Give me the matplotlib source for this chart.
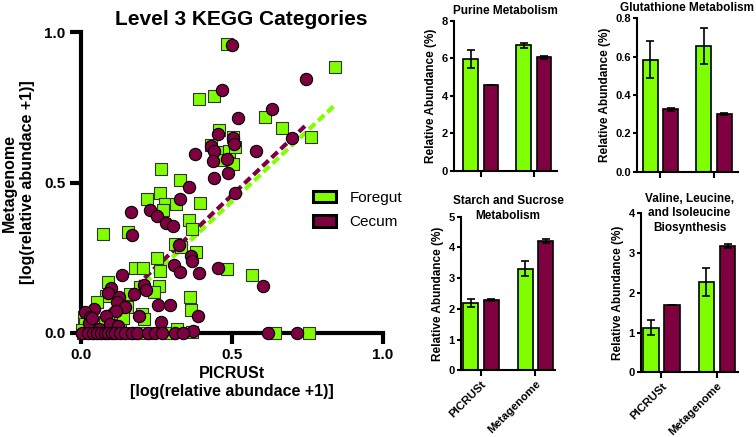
import numpy as np
import matplotlib
matplotlib.use('Agg')
import matplotlib.pyplot as plt
from matplotlib.patches import Patch

plt.rcParams['font.family'] = ['Liberation Sans', 'DejaVu Sans']
plt.rcParams['font.weight'] = 'bold'
plt.rcParams['axes.titleweight'] = 'bold'
plt.rcParams['axes.labelweight'] = 'bold'

GREEN = '#80ff00'
PURPLE = '#7f0040'

# ---- scatter: Level 3 KEGG categories ----
foregutX = [0.482, 0.840, 0.390, 0.440, 0.609, 0.667, 0.763, 0.456, 0.504, 0.430,
            0.471, 0.491, 0.511, 0.467, 0.502, 0.265, 0.328, 0.218, 0.262, 0.278,
            0.314, 0.394, 0.270, 0.359, 0.368, 0.073, 0.155, 0.312, 0.332, 0.381,
            0.252, 0.180, 0.205, 0.260, 0.482, 0.566, 0.088, 0.084, 0.196, 0.259,
            0.242, 0.163, 0.053, 0.152, 0.361, 0.365, 0.202, 0.209, 0.009, 0.031,
            0.130, 0.080, 0.020, 0.064, 0.108, 0.295, 0.317, 0.368, 0.642, 0.754,
            0.220, 0.005, 0.040, 0.140, 0.012, 0.003, 0.050, 0.095, 0.120, 0.175]
foregutY = [0.961, 0.884, 0.776, 0.787, 0.717, 0.680, 0.651, 0.673, 0.651, 0.626,
            0.601, 0.606, 0.617, 0.576, 0.560, 0.545, 0.507, 0.446, 0.465, 0.427,
            0.429, 0.432, 0.407, 0.376, 0.346, 0.329, 0.335, 0.296, 0.285, 0.268,
            0.249, 0.215, 0.215, 0.205, 0.213, 0.194, 0.171, 0.124, 0.152, 0.155,
            0.135, 0.130, 0.102, 0.088, 0.119, 0.076, 0.063, 0.047, 0.052, 0.041,
            0.041, 0.035, 0.013, 0.008, 0.013, 0.000, 0.013, 0.004, 0.000, 0.000,
            0.000, 0.000, 0.020, 0.050, 0.030, 0.010, 0.000, 0.025, 0.005, 0.000]

cecumX = [0.501, 0.744, 0.467, 0.633, 0.519, 0.455, 0.502, 0.508, 0.431, 0.442,
          0.578, 0.699, 0.379, 0.436, 0.482, 0.486, 0.439, 0.358, 0.510, 0.328,
          0.164, 0.229, 0.251, 0.282, 0.304, 0.168, 0.325, 0.363, 0.369, 0.308,
          0.455, 0.329, 0.392, 0.135, 0.604, 0.100, 0.088, 0.207, 0.215, 0.174,
          0.126, 0.119, 0.146, 0.256, 0.295, 0.115, 0.191, 0.387, 0.042, 0.014,
          0.031, 0.083, 0.025, 0.097, 0.122, 0.265, 0.061, 0.372, 0.035,
          0.002, 0.022, 0.041, 0.052, 0.066, 0.079, 0.090, 0.102, 0.113, 0.130,
          0.146, 0.168, 0.184, 0.223, 0.245, 0.267, 0.311, 0.339, 0.618, 0.714]
cecumY = [0.956, 0.845, 0.808, 0.745, 0.714, 0.662, 0.649, 0.629, 0.620, 0.606,
          0.606, 0.649, 0.595, 0.573, 0.579, 0.531, 0.516, 0.484, 0.465, 0.446,
          0.401, 0.410, 0.388, 0.365, 0.357, 0.324, 0.293, 0.257, 0.238, 0.227,
          0.215, 0.202, 0.198, 0.194, 0.155, 0.150, 0.132, 0.160, 0.143, 0.130,
          0.121, 0.102, 0.088, 0.094, 0.094, 0.072, 0.058, 0.058, 0.080, 0.069,
          0.052, 0.058, 0.032, 0.030, 0.024, 0.035, 0.013, 0.006, 0.049,
          0.000, 0.000, 0.000, 0.000, 0.000, 0.000, 0.000, 0.000, 0.000, 0.000,
          0.000, 0.000, 0.000, 0.000, 0.000, 0.000, 0.000, 0.000, 0.000, 0.000]

# regression lines: (slope, intercept)
foregutFit = (0.94, -0.033)
cecumFit = (0.95, -0.017)

# ---- bar panels ----
groups = ['PICRUSt', 'Metagenome']

purineForegut = [5.95, 6.70]
purineForegutErr = [0.48, 0.13]
purineCecum = [4.57, 6.04]
purineCecumErr = [0.0, 0.06]

glutaForegut = [0.585, 0.655]
glutaForegutErr = [0.095, 0.095]
glutaCecum = [0.325, 0.300]
glutaCecumErr = [0.006, 0.006]

starchForegut = [2.19, 3.31]
starchForegutErr = [0.12, 0.25]
starchCecum = [2.29, 4.21]
starchCecumErr = [0.04, 0.07]

valineForegut = [1.12, 2.27]
valineForegutErr = [0.19, 0.35]
valineCecum = [1.69, 3.17]
valineCecumErr = [0.0, 0.05]


def pxRect(left, top, right, bottom):
    '''figure-pixel box -> add_axes rectangle'''
    return [left / 756, 1 - bottom / 437, (right - left) / 756, (bottom - top) / 437]


fig = plt.figure(figsize=(7.56, 4.37), dpi=100)

ax = fig.add_axes(pxRect(81, 32, 383, 333))
ax.plot([0, max(foregutX)], [foregutFit[1], foregutFit[0] * max(foregutX) + foregutFit[1]],
        color=GREEN, lw=3, ls=(0, (2, 1)), zorder=1)
ax.plot([0, max(cecumX)], [cecumFit[1], cecumFit[0] * max(cecumX) + cecumFit[1]],
        color=PURPLE, lw=3, ls=(0, (2, 1)), zorder=1)
ax.scatter(foregutX, foregutY, marker='s', s=66, color=GREEN, edgecolor='#333333',
           linewidth=0.8, zorder=3, clip_on=False)
ax.scatter(cecumX, cecumY, marker='o', s=78, color=PURPLE, edgecolor='black',
           linewidth=0.8, zorder=4, clip_on=False)
ax.set_xlim(0, 1)
ax.set_ylim(0, 1)
ax.set_xticks([0, 0.5, 1.0])
ax.set_yticks([0, 0.5, 1.0])
ax.set_xticklabels(['0.0', '0.5', '1.0'])
ax.set_yticklabels(['0.0', '0.5', '1.0'])
for side in ['top', 'right']:
    ax.spines[side].set_visible(False)
for side in ['left', 'bottom']:
    ax.spines[side].set_linewidth(3)
ax.tick_params(direction='out', length=8, width=3, labelsize=11, pad=3)
ax.set_xlabel('PICRUSt\n[log(relative abundace +1)]', fontsize=11.5, labelpad=3)
ax.set_ylabel('Metagenome\n[log(relative abundace +1)]', fontsize=11.5, labelpad=7)
ax.set_title('Level 3 KEGG Categories', fontsize=15, x=0.53, pad=5)

handles = [Patch(facecolor=GREEN, edgecolor='black', linewidth=2.2, label='Foregut'),
           Patch(facecolor=PURPLE, edgecolor='black', linewidth=2.2, label='Cecum')]
fig.legend(handles=handles, loc='upper left', bbox_to_anchor=(305 / 756, 1 - 183 / 437),
           frameon=False, borderpad=0, handlelength=1.5, handleheight=0.75,
           handletextpad=0.9, labelspacing=0.7, prop={'size': 11, 'weight': 'normal'})


def barPanel(rect, xlim, foregut, foregutErr, cecum, cecumErr, ymax, yticks, ylabels,
             title, titleY=None, showLabels=False):
    axb = fig.add_axes(rect)
    pos = np.arange(len(groups))
    axb.bar(pos - 0.19, foregut, 0.28, color=GREEN, edgecolor='black', linewidth=1.2, zorder=2)
    axb.bar(pos + 0.19, cecum, 0.28, color=PURPLE, edgecolor='black', linewidth=1.2, zorder=2)
    axb.errorbar(pos - 0.19, foregut, yerr=foregutErr, fmt='none', ecolor='black',
                 elinewidth=1.2, capsize=3, capthick=1.2, zorder=3)
    axb.errorbar(pos + 0.19, cecum, yerr=cecumErr, fmt='none', ecolor='black',
                 elinewidth=1.2, capsize=3, capthick=1.2, zorder=3)
    axb.set_xlim(xlim)
    axb.set_ylim(0, ymax)
    axb.set_yticks(yticks)
    axb.set_yticklabels(ylabels)
    axb.set_xticks(pos)
    if showLabels:
        axb.set_xticklabels(groups, rotation=45, ha='right', rotation_mode='anchor')
    else:
        axb.set_xticklabels([])
    for side in ['top', 'right']:
        axb.spines[side].set_visible(False)
    for side in ['left', 'bottom']:
        axb.spines[side].set_linewidth(1.5)
    axb.tick_params(axis='y', direction='out', length=3, width=1.5, labelsize=8, pad=1.5)
    axb.tick_params(axis='x', direction='out', length=4, width=1.5, labelsize=8.2, pad=2)
    axb.set_ylabel('Relative Abundance (%)', fontsize=8.5, labelpad=3)
    if titleY is None:
        axb.set_title(title, fontsize=8.5, pad=5)
    else:
        axb.text(0.5, titleY, title, transform=axb.transAxes, ha='center', va='top',
                 fontsize=8.5, linespacing=1.3)
    return axb


barPanel(pxRect(454, 20.7, 557, 170.7), (-0.509, 1.434), purineForegut, purineForegutErr,
         purineCecum, purineCecumErr, 8, [0, 2, 4, 6, 8], ['0', '2', '4', '6', '8'],
         'Purine Metabolism')
barPanel(pxRect(637, 18.3, 738, 171.7), (-0.439, 1.449), glutaForegut, glutaForegutErr,
         glutaCecum, glutaCecumErr, 0.8, [0, 0.2, 0.4, 0.6, 0.8],
         ['0.0', '0.2', '0.4', '0.6', '0.8'], 'Glutathione Metabolism')
barPanel(pxRect(461, 216.7, 555, 370.3), (-0.367, 1.358), starchForegut, starchForegutErr,
         starchCecum, starchCecumErr, 5, [0, 1, 2, 3, 4, 5], ['0', '1', '2', '3', '4', '5'],
         'Starch and Sucrose\nMetabolism', titleY=1.14, showLabels=True)
barPanel(pxRect(641, 213.3, 738, 372.3), (-0.369, 1.378), valineForegut, valineForegutErr,
         valineCecum, valineCecumErr, 4, [0, 1, 2, 3, 4], ['0', '1', '2', '3', '4'],
         'Valine, Leucine,\nand Isoleucine\nBiosynthesis', titleY=1.13, showLabels=True)

fig.savefig('out.png', dpi=100)
